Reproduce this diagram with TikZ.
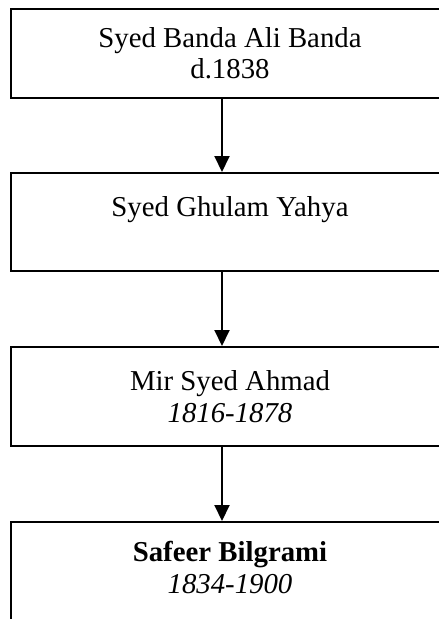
\documentclass[tikz,border=0pt]{standalone}
\usepackage{fontspec}
\setmainfont{Liberation Serif}
\usetikzlibrary{arrows.meta}
\tikzset{every picture/.style={line width=1.5pt}}

\begin{document}
\begin{tikzpicture}[x=0.75pt,y=0.75pt,yscale=-1,xscale=1,
  famBox/.style={draw, anchor=north west, minimum width=328.5pt, align=center, inner sep=0pt, font=\fontsize{21.6}{23.5}\selectfont},
  famArrow/.style={-{Triangle[width=11.25pt,length=12pt]}}]
%set diagram left start at 0, and has height of 619
\clip (0,0) rectangle (439,619);

%Line of descent, x of the arrows
\coordinate (ax) at (222,0);

% Family boxes
\node [famBox, minimum height=66.75pt] (banda) at (10,8) {Syed Banda Ali Banda\\d.1838};
\node [famBox, minimum height=73.5pt] (yahya) at (10,172) {Syed Ghulam Yahya\\\mbox{}};
\node [famBox, minimum height=74.25pt] (ahmad) at (10,346) {Mir Syed Ahmad\\\textit{1816-1878}};
\node [famBox, minimum height=91.5pt] (safeer) at (10,521) {\textbf{Safeer Bilgrami}\\\textit{1834-1900}\\\mbox{}};

% Arrows
\draw [famArrow] (ax |- banda.south) -- (ax |- yahya.north);
\draw [famArrow] (ax |- yahya.south) -- (ax |- ahmad.north);
\draw [famArrow] (ax |- ahmad.south) -- (ax |- safeer.north);

\end{tikzpicture}
\end{document}
